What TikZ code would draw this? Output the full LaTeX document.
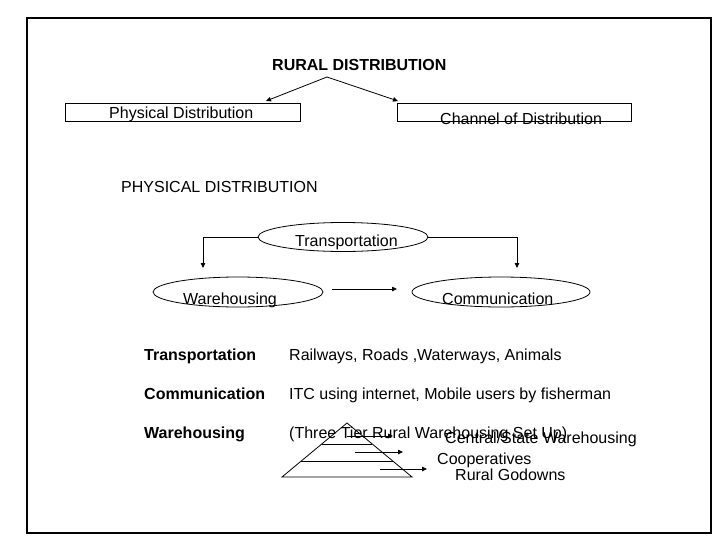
\documentclass[tikz,border=0pt]{standalone}
\usepackage{fontspec}
\setmainfont{Liberation Sans}
\usetikzlibrary{shapes.geometric,arrows.meta}
\begin{document}
\begin{tikzpicture}[x=1pt,y=-1pt,
  txt/.style={anchor=base west,inner sep=0pt,font=\fontsize{16}{19}\selectfont},
  btxt/.style={txt,font=\fontsize{16}{19}\selectfont\bfseries},
  boxnode/.style={draw,line width=0.8pt,inner sep=0pt,minimum height=18pt},
  ell/.style={draw,ellipse,line width=0.8pt,inner sep=0pt},
  conn/.style={line width=0.8pt,-{Triangle[length=5pt,width=4.5pt]}},
  plain/.style={line width=0.8pt}]
\useasboundingbox (0,0) rectangle (728,546);
\draw[line width=1.3pt] (27,18) rectangle (711,533);

% title
\node[btxt] (title) at (272,70) {RURAL DISTRIBUTION};
\coordinate (tsplit) at (327,77);
\coordinate (tl) at (266,101);
\coordinate (tr2) at (398,101);
\draw[conn] (tsplit) -- (tl);
\draw[conn] (tsplit) -- (tr2);

% boxes
\node[boxnode,minimum width=235pt] (pdbox) at (182.5,112) {};
\node[txt] (pdtxt) at (109,118) {Physical Distribution};
\node[boxnode,minimum width=234pt] (cdbox) at (514,112) {};
\node[txt] (cdtxt) at (440,124) {Channel of Distribution};

\node[txt] (phys) at (121,192) {PHYSICAL DISTRIBUTION};

% ellipses
\node[ell,minimum width=170pt,minimum height=29pt] (tre) at (343,237) {};
\node[txt] (trt) at (295,246) {Transportation};
\node[ell,minimum width=170pt,minimum height=30pt] (whe) at (238,292) {};
\node[txt] (wht) at (183,304) {Warehousing};
\node[ell,minimum width=178pt,minimum height=30pt] (coe) at (501,292) {};
\node[txt] (cot) at (442,304) {Communication};

\coordinate (wharr) at (203,268);
\coordinate (coarr) at (517,268);
\draw[conn] (tre.west) -| (wharr);
\draw[conn] (tre.east) -| (coarr);
\coordinate (wcs) at (332,289);
\coordinate (wce) at (397,289);
\draw[conn] (wcs) -- (wce);

% table
\node[btxt] (l1) at (144,360) {Transportation};
\node[txt] (r1) at (289,360) {Railways, Roads ,Waterways, Animals};
\node[btxt] (l2) at (144,399) {Communication};
\node[txt] (r2) at (289,399) {ITC using internet, Mobile users by fisherman};
\node[btxt] (l3) at (144,438) {Warehousing};
\node[txt] (r3) at (289,438) {(Three Tier Rural Warehousing Set Up)};

% pyramid
\draw[plain] (282,477) -- (347,423) -- (412,477) -- cycle;
\draw[plain] (322,444) -- (372,444);
\draw[plain] (301,461) -- (393,461);
\coordinate (a1s) at (347,436);
\coordinate (a1e) at (393,436);
\coordinate (a2s) at (355,452);
\coordinate (a2e) at (403,452);
\coordinate (a3s) at (380,469);
\coordinate (a3e) at (427,469);
\draw[conn] (a1s) -- (a1e);
\draw[conn] (a2s) -- (a2e);
\draw[conn] (a3s) -- (a3e);
\node[txt] (p1) at (445,443) {Central/State Warehousing};
\node[txt] (p2) at (437,464) {Cooperatives};
\node[txt] (p3) at (455,480) {Rural Godowns};
\end{tikzpicture}
\end{document}
